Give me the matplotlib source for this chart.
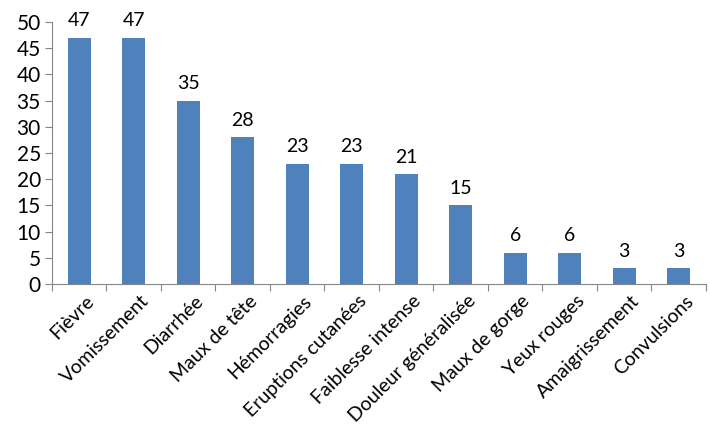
import numpy as np
import matplotlib.pyplot as plt
import matplotlib.transforms as mtransforms

# Symptômes et effectifs
symptomes = ["Fièvre", "Vomissement", "Diarrhée", "Maux de tête", "Hémorragies",
             "Eruptions cutanées", "Faiblesse intense", "Douleur généralisée",
             "Maux de gorge", "Yeux rouges", "Amaigrissement", "Convulsions"]
effectifs = [47, 47, 35, 28, 23, 23, 21, 15, 6, 6, 3, 3]

plt.rcParams["font.family"] = ["Lato", "DejaVu Sans"]

fig = plt.figure(figsize=(7.1, 4.33), dpi=100)
ax = fig.add_axes([0.0732, 0.344, 0.921, 0.605])

x = np.arange(len(symptomes))
barres = ax.bar(x, effectifs, width=0.42, color="#4F81BD")
for b, v in zip(barres, effectifs):
    ax.text(b.get_x() + b.get_width() / 2, v + 1.6, str(v),
            ha="center", va="bottom", fontsize=14)

ax.set_xlim(-0.5, len(symptomes) - 0.5)
ax.set_ylim(0, 50)
ax.set_yticks(range(0, 51, 5))
ax.tick_params(axis="y", labelsize=15, length=5, color="#868686", pad=3)

# graduations entre les catégories
ax.set_xticks(np.arange(-0.5, len(symptomes) - 0.4, 1))
ax.set_xticklabels([])
ax.tick_params(axis="x", length=5, color="#868686")
ax.set_xticks(x, minor=True)
ax.set_xticklabels(symptomes, minor=True, rotation=45, ha="right",
                   rotation_mode="anchor", fontsize=14)
ax.tick_params(axis="x", which="minor", length=0, pad=6)
decal = mtransforms.ScaledTranslation(6 / 100, 0, fig.dpi_scale_trans)
for lab in ax.get_xticklabels(minor=True):
    lab.set_transform(lab.get_transform() + decal)

for s in ["top", "right"]:
    ax.spines[s].set_visible(False)
ax.spines["left"].set_color("#868686")
ax.spines["bottom"].set_color("#868686")

fig.savefig("out.png", dpi=100)
